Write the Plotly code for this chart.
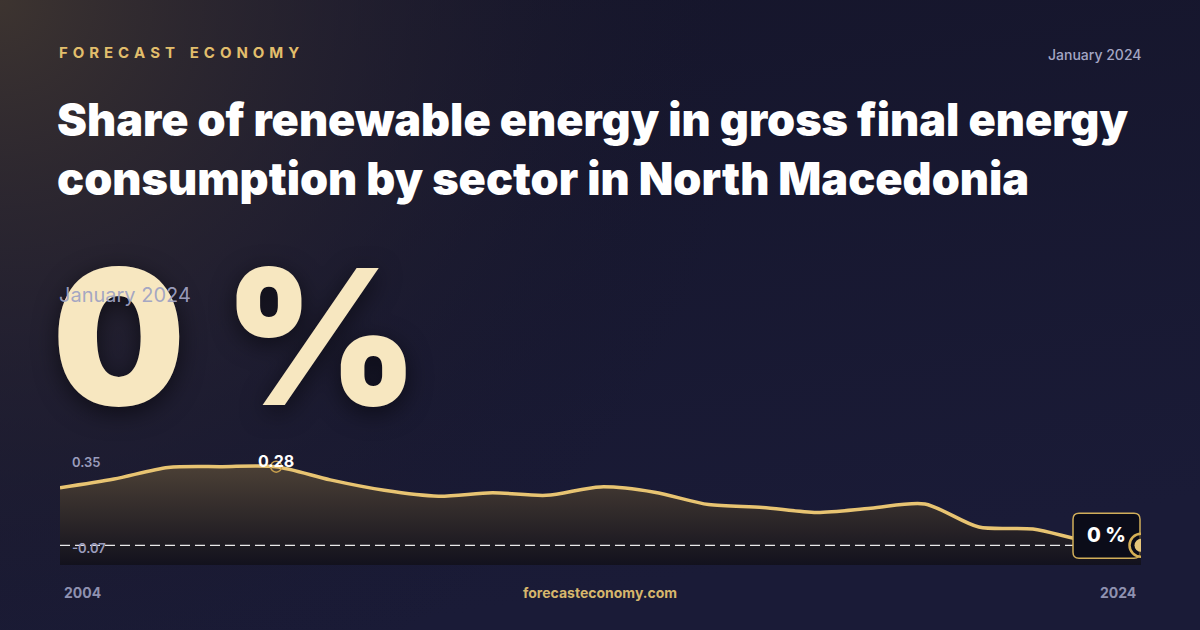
import base64
import plotly.graph_objects as go

# ---------------- data ----------------
years = list(range(2004, 2025))
share = [0.205, 0.236, 0.277, 0.280, 0.280, 0.233, 0.196, 0.175, 0.187, 0.178,
         0.208, 0.189, 0.145, 0.135, 0.117, 0.132, 0.147, 0.065, 0.058, 0.015, 0.0]
y_min_label = -0.07
y_max_label = 0.35
peak_year = 2008
peak_value = 0.28
latest_value = 0
period_label = "January 2024"
title_text = "Share of renewable energy in gross final energy<br>consumption by sector in North Macedonia"
brand_words = ["FORECAST", "ECONOMY"]
site = "forecasteconomy.com"

GOLD = "#e8c472"
W, H = 1200, 630

# background (decorative) as an svg with gradients
svg = f'''<svg xmlns="http://www.w3.org/2000/svg" width="{W}" height="{H}" viewBox="0 0 {W} {H}">
<defs>
<linearGradient id="b" x1="0" y1="0" x2="0.3" y2="1">
<stop offset="0" stop-color="#15152a"/><stop offset="1" stop-color="#1a1b37"/>
</linearGradient>
<radialGradient id="r" cx="0" cy="0" r="760" gradientUnits="userSpaceOnUse">
<stop offset="0" stop-color="#3d3430" stop-opacity="1"/>
<stop offset="0.45" stop-color="#2a2530" stop-opacity="0.6"/>
<stop offset="1" stop-color="#15152a" stop-opacity="0"/>
</radialGradient>
</defs>
<rect width="{W}" height="{H}" fill="url(#b)"/>
<rect width="{W}" height="{H}" fill="url(#r)"/>
</svg>'''
bg_src = "data:image/svg+xml;base64," + base64.b64encode(svg.encode()).decode()

fig = go.Figure()

# baseline for fill
fig.add_trace(go.Scatter(x=years, y=[y_min_label] * len(years), mode="lines",
                         line=dict(width=0), hoverinfo="skip", showlegend=False))
fig.add_trace(go.Scatter(
    x=years, y=share, mode="lines", fill="tonexty",
    line=dict(color=GOLD, width=3.5, shape="spline", smoothing=0.8),
    fillgradient=dict(type="vertical",
                      colorscale=[[0, "rgba(18,17,28,0.95)"], [1, "rgba(78,66,54,0.95)"]]),
    showlegend=False))

# dashed zero line
fig.add_trace(go.Scatter(x=[years[0], years[-1]], y=[0, 0], mode="lines",
                         line=dict(color="rgba(255,255,255,0.9)", width=1.3, dash="10px,5px"),
                         showlegend=False, hoverinfo="skip"))

# peak marker
fig.add_trace(go.Scatter(x=[peak_year], y=[peak_value], mode="markers",
                         marker=dict(size=11, color="rgba(0,0,0,0)",
                                     line=dict(color="#c9a04e", width=1.5)),
                         showlegend=False))

# latest value callout: rounded box + ring + dot as pixel-sized shapes anchored at the last point
lx, ly = years[-1], share[-1]
box_path = ("M -62,32 L -7,32 Q -1,32 -1,26 L -1,-7 Q -1,-13 -7,-13 "
            "L -62,-13 Q -68,-13 -68,-7 L -68,26 Q -68,32 -62,32 Z")
shapes = [
    dict(type="path", xref="x", yref="y", xsizemode="pixel", ysizemode="pixel",
         xanchor=lx, yanchor=ly, path=box_path, fillcolor="#0b0c19",
         line=dict(color="#d1ae5a", width=1.5), layer="above"),
    dict(type="circle", xref="x", yref="y", xsizemode="pixel", ysizemode="pixel",
         xanchor=lx, yanchor=ly, x0=-11.5, x1=11.5, y0=-11.5, y1=11.5,
         fillcolor="rgba(11,12,25,0.6)", line=dict(color="#d6b055", width=2.5), layer="above"),
    dict(type="circle", xref="x", yref="y", xsizemode="pixel", ysizemode="pixel",
         xanchor=lx, yanchor=ly, x0=-6.5, x1=6.5, y0=-6.5, y1=6.5,
         fillcolor="#e6c57a", line=dict(width=0), layer="above"),
]

ann = []
FONT = "Inter"
# peak label
ann.append(dict(x=peak_year, y=peak_value, xref="x", yref="y", xanchor="center", yanchor="bottom",
                yshift=-6, text=f"{peak_value:.2f}", showarrow=False,
                font=dict(family=FONT, size=16, color="#ffffff", weight=700)))
# latest value text
ann.append(dict(x=lx, y=ly, xref="x", yref="y", xanchor="center", yanchor="middle",
                xshift=-35, yshift=10, text=f"{latest_value} %", showarrow=False,
                font=dict(family=FONT, size=20, color="#ffffff", weight=800)))

# header (letter-spaced)
ls = "\u2005\u200a"
brand_text = (ls + "\u2004" + ls).join(ls.join(list(w)) for w in brand_words)
ann.append(dict(x=57 / W, y=1 - 52 / H, xref="paper", yref="paper", xanchor="left", yanchor="middle",
                text=brand_text, showarrow=False,
                font=dict(family=FONT, size=15, color="#e2be6c", weight=700)))
ann.append(dict(x=1143 / W, y=1 - 54 / H, xref="paper", yref="paper", xanchor="right", yanchor="middle",
                text=period_label, showarrow=False,
                font=dict(family=FONT, size=14, color="#a4a6c4", weight=500)))
# title
ann.append(dict(x=55 / W, y=1 - 90 / H, xref="paper", yref="paper", xanchor="left", yanchor="top",
                text=title_text, showarrow=False, align="left",
                font=dict(family=FONT, size=45, color="#ffffff", weight=900)))
# big number
ann.append(dict(x=50 / W, y=1 - 336 / H, xref="paper", yref="paper", xanchor="left", yanchor="middle",
                text=f"{latest_value} %", showarrow=False,
                font=dict(family=FONT, size=188, color="#f7e7c0", weight=900,
                          shadow="0px 6px 24px rgba(0,0,0,0.55)")))
ann.append(dict(x=57 / W, y=1 - 295 / H, xref="paper", yref="paper", xanchor="left", yanchor="middle",
                text=period_label, showarrow=False,
                font=dict(family=FONT, size=20, color="rgba(160,163,195,0.95)", weight=400)))
# y labels
ann.append(dict(x=70 / W, y=y_max_label, xref="paper", yref="y", xanchor="left", yanchor="top",
                yshift=-5, text=f"{y_max_label:.2f}", showarrow=False,
                font=dict(family=FONT, size=13, color="#9a9cbc", weight=600)))
ann.append(dict(x=70 / W, y=y_min_label, xref="paper", yref="y", xanchor="left", yanchor="bottom",
                yshift=7, text=f"{y_min_label:.2f}", showarrow=False,
                font=dict(family=FONT, size=13, color="#9a9cbc", weight=600)))
# footer
ann.append(dict(x=62 / W, y=1 - 592 / H, xref="paper", yref="paper", xanchor="left", yanchor="middle",
                text=str(years[0]), showarrow=False,
                font=dict(family=FONT, size=14, color="#8f91b0", weight=700)))
ann.append(dict(x=1138 / W, y=1 - 592 / H, xref="paper", yref="paper", xanchor="right", yanchor="middle",
                text=str(years[-1]), showarrow=False,
                font=dict(family=FONT, size=14, color="#8f91b0", weight=700)))
ann.append(dict(x=0.5, y=1 - 592 / H, xref="paper", yref="paper", xanchor="center", yanchor="middle",
                text=site, showarrow=False,
                font=dict(family=FONT, size=14, color="#d6b66c", weight=700)))

fig.update_layout(
    width=W, height=H, margin=dict(l=0, r=0, t=0, b=0),
    paper_bgcolor="#15152a", plot_bgcolor="rgba(0,0,0,0)",
    images=[dict(source=bg_src, xref="paper", yref="paper", x=0, y=1, sizex=1, sizey=1,
                 xanchor="left", yanchor="top", sizing="stretch", layer="below")],
    xaxis=dict(domain=[60 / W, 1141 / W], range=[years[0], years[-1]], visible=False, fixedrange=True),
    yaxis=dict(domain=[1 - 565 / H, 1 - 447 / H], range=[y_min_label, y_max_label], visible=False,
               fixedrange=True),
    shapes=shapes, annotations=ann, showlegend=False,
)

fig.write_html("out.html", config={"displayModeBar": False},
               post_script="document.body.style.margin='0';document.body.style.background='#15152a';")
